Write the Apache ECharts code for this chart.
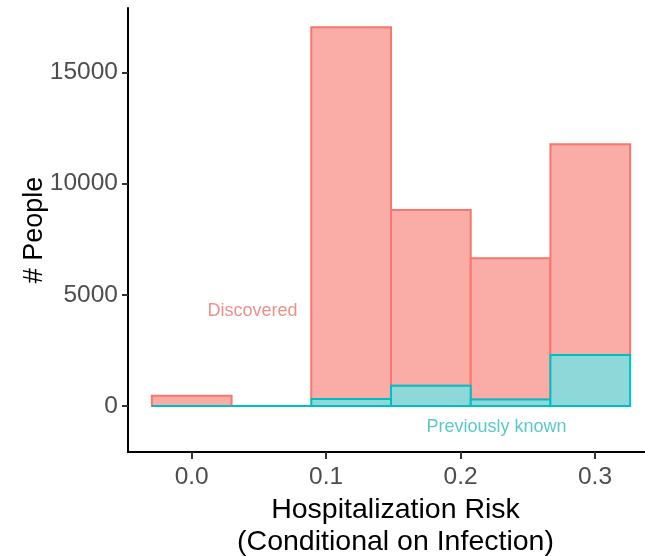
<!DOCTYPE html>
<html>
<head>
<meta charset="utf-8">
<script src="https://cdn.jsdelivr.net/npm/echarts@6/dist/echarts.min.js"></script>
<style>
html,body{margin:0;padding:0;background:#fff;}
#chart{width:645px;height:556px;}
</style>
</head>
<body>
<div id="chart"></div>
<script>
// Histogram bins (centres of bins, in hospitalization risk units)
var binCenters = [0.0, 0.0593, 0.1186, 0.1779, 0.2372, 0.2965];
var binWidth = 0.0593;
// Counts per bin
var knownCounts = [0, 0, 320, 910, 290, 2290];
var discoveredCounts = [465, 0, 16710, 7900, 6350, 9480];
// Tick labels
var xTicks = [0.0, 0.1, 0.2, 0.3];
var yTicks = [0, 5000, 10000, 15000];
// Text annotations [x, y, label]
var discoveredLabel = [0.0452, 4270, 'Discovered'];
var knownLabel = [0.2267, -950, 'Previously known'];

var FONT = 'Liberation Sans, Arial, Helvetica, sans-serif';

function rectItem(fill, stroke) {
  return function (params, api) {
    var c = api.value(0);
    var lo = api.value(1);
    var hi = api.value(2);
    var p1 = api.coord([c - binWidth / 2, hi]);
    var p2 = api.coord([c + binWidth / 2, lo]);
    return {
      type: 'rect',
      shape: { x: p1[0], y: p1[1], width: p2[0] - p1[0], height: p2[1] - p1[1] },
      style: { fill: fill, stroke: stroke, lineWidth: 2 }
    };
  };
}

var discData = binCenters.map(function (c, i) {
  return [c, knownCounts[i], knownCounts[i] + discoveredCounts[i]];
});
var knownData = binCenters.map(function (c, i) {
  return [c, 0, knownCounts[i]];
});

var chart = echarts.init(document.getElementById('chart'), null, { renderer: 'canvas' });
chart.setOption({
  animation: false,
  backgroundColor: '#ffffff',
  grid: { left: 128, right: 0, top: 8, bottom: 104, containLabel: false, outerBoundsMode: 'none' },
  xAxis: {
    type: 'value',
    min: -0.0474,
    max: 0.3372,
    name: 'Hospitalization Risk\n(Conditional on Infection)',
    nameLocation: 'middle',
    nameGap: 42,
    nameMoveOverlap: false,
    nameTextStyle: { fontFamily: FONT, fontSize: 28.5, color: '#000', lineHeight: 32, padding: [0, 0, 0, 18] },
    axisLine: { show: true, onZero: false, lineStyle: { color: '#000', width: 2 } },
    axisTick: { show: true, customValues: xTicks, length: 7, lineStyle: { color: '#333', width: 2 } },
    axisLabel: {
      customValues: xTicks, margin: 13, color: '#4d4d4d', fontFamily: FONT, fontSize: 24.5,
      formatter: function (v) { return v.toFixed(1); }
    },
    splitLine: { show: false }
  },
  yAxis: {
    type: 'value',
    min: -2068,
    max: 17896,
    name: '# People',
    nameLocation: 'middle',
    nameGap: 80,
    nameMoveOverlap: false,
    nameTextStyle: { fontFamily: FONT, fontSize: 27, color: '#000' },
    axisLine: { show: true, onZero: false, lineStyle: { color: '#000', width: 2 } },
    axisTick: { show: true, customValues: yTicks, length: 6, lineStyle: { color: '#333', width: 2 } },
    axisLabel: {
      customValues: yTicks, margin: 10, color: '#4d4d4d', fontFamily: FONT, fontSize: 24.5,
      formatter: function (v) { return String(v); }
    },
    splitLine: { show: false }
  },
  series: [
    {
      type: 'custom',
      renderItem: rectItem('#FAADA7', '#F8766D'),
      encode: { x: 0, y: [1, 2] },
      data: discData,
      z: 2
    },
    {
      type: 'custom',
      renderItem: rectItem('#8ED8DA', '#00BFC4'),
      encode: { x: 0, y: [1, 2] },
      data: knownData,
      z: 3
    },
    {
      type: 'scatter',
      symbolSize: 0,
      silent: true,
      data: [
        { value: [discoveredLabel[0], discoveredLabel[1]], name: discoveredLabel[2],
          label: { show: true, position: 'inside', formatter: discoveredLabel[2], color: '#EA746C', fontFamily: FONT, fontSize: 18 } },
        { value: [knownLabel[0], knownLabel[1]], name: knownLabel[2],
          label: { show: true, position: 'inside', formatter: knownLabel[2], color: '#2FBAC0', fontFamily: FONT, fontSize: 18 } }
      ],
      z: 4
    }
  ]
});
</script>
</body>
</html>
